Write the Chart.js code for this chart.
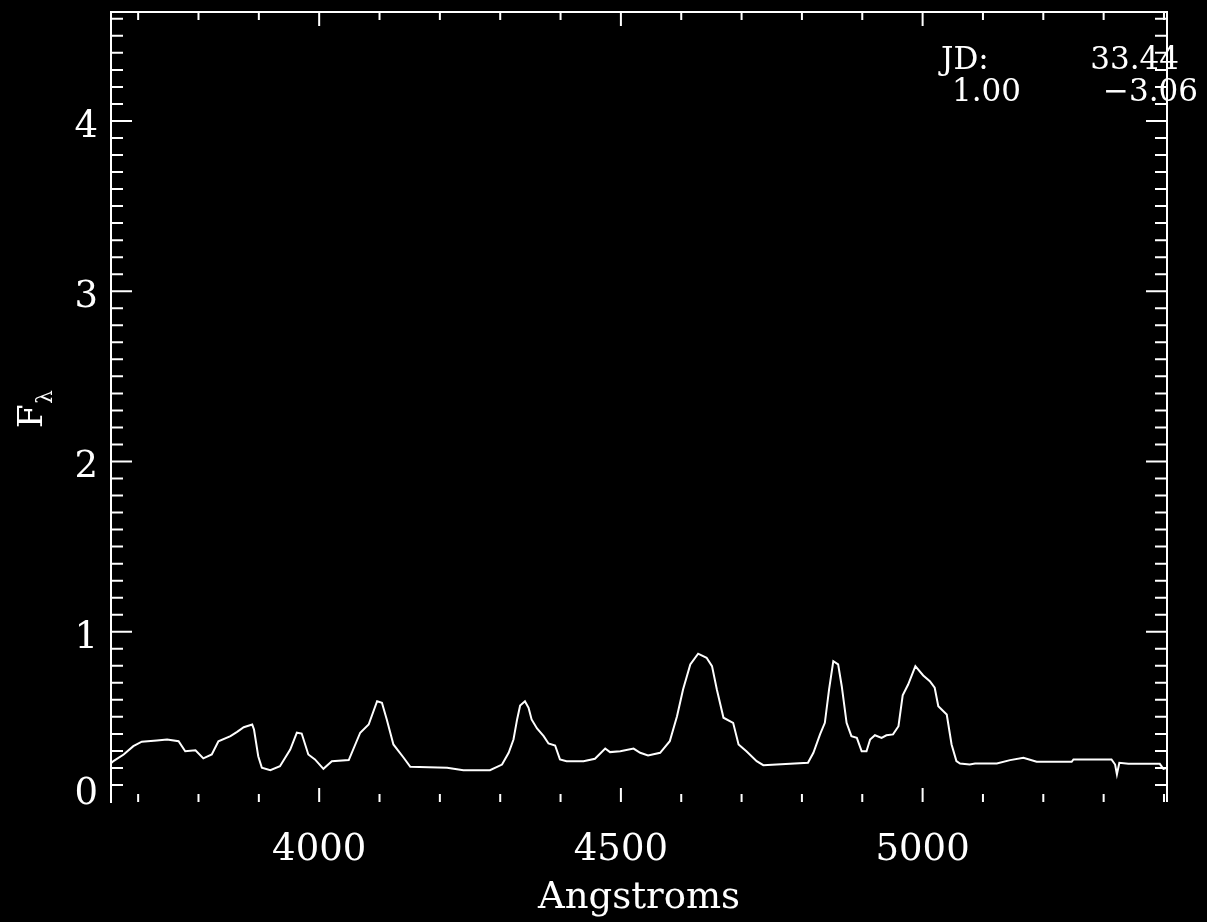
<!DOCTYPE html>
<html><head><meta charset="utf-8">
<script src="https://cdn.jsdelivr.net/npm/chart.js@4/dist/chart.umd.min.js"></script>
<style>html,body{margin:0;padding:0;background:#000;overflow:hidden}canvas{display:block}</style>
</head><body>
<canvas id="c" width="1207" height="922"></canvas>
<script>
// ---- data ----
const wavelength = [3656,3659,3676,3692,3706,3731,3748,3767,3778,3795,3808,3822,3833,3853,3864,3875,3889,3892,3899,3905,
  3919,3935,3952,3963,3971,3982,3993,4007,4021,4049,4068,4082,4096,4104,4112,4123,4140,4151,4212,4239,
  4283,4303,4314,4322,4328,4333,4341,4347,4352,4361,4372,4380,4391,4399,4410,4438,4457,4474,4482,4499,
  4521,4532,4545,4565,4581,4593,4603,4615,4628,4642,4651,4659,4670,4686,4695,4708,4725,4736,4810,4819,
  4830,4838,4845,4852,4860,4866,4874,4882,4891,4899,4907,4913,4921,4932,4940,4951,4960,4967,4976,4988,
  5001,5012,5020,5026,5040,5048,5056,5062,5078,5087,5123,5145,5167,5189,5247,5250,5313,5319,5322,5326,
  5341,5393,5399,5404];
const flux = [0.230,0.240,0.279,0.328,0.354,0.361,0.367,0.357,0.298,0.304,0.256,0.279,0.357,0.387,0.412,0.439,0.455,0.426,0.269,0.201,
  0.187,0.210,0.308,0.407,0.402,0.279,0.250,0.195,0.240,0.246,0.407,0.455,0.592,0.583,0.485,0.338,0.260,0.207,0.201,0.187,
  0.187,0.220,0.289,0.367,0.485,0.567,0.592,0.553,0.485,0.432,0.387,0.344,0.332,0.250,0.240,0.240,0.254,0.314,0.293,0.298,
  0.314,0.289,0.273,0.289,0.357,0.504,0.661,0.808,0.871,0.847,0.798,0.661,0.495,0.465,0.338,0.298,0.240,0.216,0.230,0.289,
  0.397,0.465,0.661,0.827,0.808,0.680,0.465,0.387,0.377,0.298,0.298,0.367,0.392,0.377,0.392,0.397,0.445,0.626,0.690,0.798,
  0.743,0.710,0.671,0.563,0.514,0.338,0.240,0.226,0.220,0.226,0.226,0.246,0.260,0.236,0.236,0.250,0.250,0.220,0.162,0.230,
  0.224,0.224,0.195,0.200];
const xTickLabels = [4000, 4500, 5000];
const yTickLabels = [0, 1, 2, 3, 4];
const xMinorTicks = [3700,3800,3900,4000,4100,4200,4300,4400,4500,4600,4700,4800,4900,5000,5100,5200,5300,5400];
const xTitle = "Angstroms";
const yTitle = "F";
const yTitleSub = "λ";
const infoRow1 = ["JD:", "33.44"];
const infoRow2 = ["1.00", "\u22123.06"];

const SERIF = '"DejaVu Serif", "Liberation Serif", serif';

const framePlugin = {
  id: 'frame',
  beforeDraw(chart) {
    const ctx = chart.ctx;
    ctx.save();
    ctx.fillStyle = '#000';
    ctx.fillRect(0, 0, chart.width, chart.height);
    ctx.restore();
  },
  afterDraw(chart) {
    const ctx = chart.ctx, a = chart.chartArea, xs = chart.scales.x, ys = chart.scales.y;
    ctx.save();
    ctx.strokeStyle = '#fff';
    ctx.lineWidth = 2;
    ctx.beginPath();
    ctx.moveTo(a.left, a.top); ctx.lineTo(a.right, a.top); ctx.lineTo(a.right, a.bottom);
    ctx.stroke();
    ctx.beginPath();
    for (const v of xMinorTicks) {
      const px = xs.getPixelForValue(v);
      const len = (v % 500 === 0) ? 14 : 8;
      ctx.moveTo(px, a.bottom); ctx.lineTo(px, a.bottom - len);
      ctx.moveTo(px, a.top); ctx.lineTo(px, a.top + len);
    }
    for (let i = 1; i * 0.1 <= ys.max + 1e-9; i++) {
      const py = ys.getPixelForValue(i / 10);
      const len = (i % 10 === 0) ? 21 : 12;
      ctx.moveTo(a.left, py); ctx.lineTo(a.left + len, py);
      ctx.moveTo(a.right, py); ctx.lineTo(a.right - len, py);
    }
    ctx.stroke();

    ctx.fillStyle = '#fff';
    ctx.font = '37px ' + SERIF;
    ctx.textAlign = 'right';
    ctx.textBaseline = 'alphabetic';
    for (const v of yTickLabels) {
      const py = ys.getPixelForValue(v);
      const base = Math.min(py + 16, a.bottom + 2);
      ctx.fillText(String(v), a.left - 13, base);
    }

    // y title F_lambda
    ctx.save();
    ctx.translate(42, 428);
    ctx.rotate(-Math.PI / 2);
    ctx.textAlign = 'left';
    ctx.font = '34px ' + SERIF;
    ctx.fillText(yTitle, 0, 0);
    ctx.font = '22px ' + SERIF;
    ctx.fillText(yTitleSub, 24, 10);
    ctx.restore();

    // info text
    ctx.font = '31px ' + SERIF;
    ctx.textAlign = 'left';
    ctx.fillText(infoRow1[0], 941, 69);
    ctx.fillText(infoRow2[0], 952, 101);
    ctx.textAlign = 'right';
    ctx.fillText(infoRow1[1], 1179, 69);
    ctx.fillText(infoRow2[1], 1198, 101);
    ctx.restore();
  }
};

new Chart(document.getElementById('c'), {
  type: 'line',
  data: {
    datasets: [{
      data: wavelength.map((w, i) => ({ x: w, y: flux[i] })),
      borderColor: '#fff',
      borderWidth: 2,
      pointRadius: 0,
      tension: 0,
      fill: false
    }]
  },
  options: {
    responsive: false,
    animation: false,
    events: [],
    layout: { padding: { top: 12, right: 40, left: 0, bottom: 0 } },
    plugins: { legend: { display: false }, tooltip: { enabled: false } },
    scales: {
      x: {
        type: 'linear', min: 3655, max: 5405,
        grid: { display: false, drawTicks: false },
        border: { display: false },
        afterBuildTicks: s => { s.ticks = xTickLabels.map(v => ({ value: v })); },
        afterFit: s => { s.height = 120; },
        ticks: {
          color: '#fff', padding: 26, maxRotation: 0, autoSkip: false,
          font: { family: SERIF, size: 37 },
          callback: v => String(v)
        },
        title: {
          display: true, text: xTitle, color: '#fff',
          font: { family: SERIF, size: 37 }, padding: { top: 0, bottom: 1 }
        }
      },
      y: {
        min: 0, max: 4.64,
        grid: { display: false, drawTicks: false },
        border: { display: true, color: '#fff', width: 2 },
        ticks: { display: false },
        afterFit: s => { s.width = 111; }
      }
    }
  },
  plugins: [framePlugin]
});
</script>
</body></html>
